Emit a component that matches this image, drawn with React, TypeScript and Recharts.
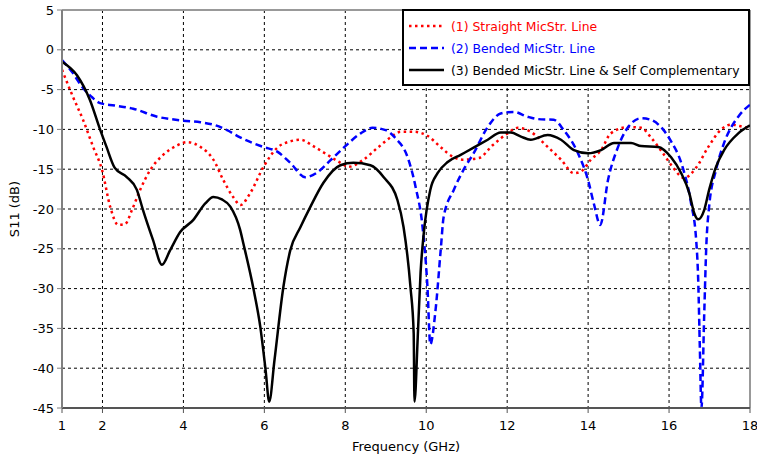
import React from "react";
import { LineChart, Line, XAxis, YAxis, CartesianGrid, ReferenceLine, Label } from "recharts";

const freqTicks = [1, 2, 4, 6, 8, 10, 12, 14, 16, 18];
const s11Ticks = [-45, -40, -35, -30, -25, -20, -15, -10, -5, 0, 5];

// (1) straight microstrip line
const straightF = [1.0, 1.27, 1.52, 1.77, 1.99, 2.19, 2.39, 2.56, 2.73, 2.93, 3.18, 3.5, 3.85, 4.09, 4.42, 4.74, 4.99, 5.23, 5.41, 5.65, 5.98, 6.32, 6.64, 6.89, 7.21, 7.56, 7.88, 8.08, 8.45, 8.8, 9.12, 9.37, 9.69, 10.03, 10.35, 10.68, 10.93, 11.3, 11.64, 12.01, 12.26, 12.58, 13.0, 13.33, 13.65, 13.82, 14.07, 14.32, 14.56, 14.99, 15.31, 15.55, 15.85, 16.1, 16.37, 16.67, 16.97, 17.29, 17.54, 17.86, 18.0];
const straightS11 = [-2.5, -5.9, -8.8, -12.2, -15.1, -19.7, -22.0, -21.9, -20.1, -17.6, -15.1, -13.2, -12.0, -11.6, -12.2, -13.8, -16.4, -18.5, -19.5, -18.0, -14.7, -12.3, -11.5, -11.3, -12.1, -13.2, -14.2, -14.7, -13.8, -12.3, -11.0, -10.3, -10.3, -10.8, -12.2, -13.5, -13.8, -13.6, -12.0, -10.5, -9.8, -10.3, -12.2, -13.8, -15.5, -15.3, -13.8, -12.6, -10.5, -9.7, -9.8, -11.0, -13.0, -14.8, -16.1, -14.8, -12.2, -10.0, -9.4, -9.7, -9.8];

// (2) bended microstrip line
const bendedF = [1.0, 1.25, 1.52, 1.75, 1.94, 2.3, 2.76, 3.35, 4.0, 4.42, 4.8, 5.08, 5.4, 5.97, 6.32, 6.64, 7.01, 7.31, 7.63, 7.96, 8.38, 8.67, 9.0, 9.24, 9.54, 9.74, 9.91, 10.03, 10.1, 10.23, 10.36, 10.43, 10.68, 10.93, 11.17, 11.52, 11.84, 12.16, 12.5, 12.75, 13.15, 13.4, 13.75, 14.0, 14.15, 14.3, 14.49, 14.74, 14.99, 15.31, 15.55, 15.85, 16.05, 16.3, 16.54, 16.67, 16.72, 16.76, 16.8, 16.87, 16.92, 16.99, 17.16, 17.36, 17.71, 18.0];
const bendedS11 = [-1.3, -2.8, -4.8, -6.0, -6.7, -7.0, -7.4, -8.4, -8.9, -9.1, -9.5, -10.1, -11.0, -12.2, -12.8, -14.2, -16.0, -15.4, -13.9, -12.3, -10.5, -9.8, -10.1, -11.1, -13.5, -17.3, -22.3, -29.8, -37.0, -32.7, -25.0, -21.0, -17.6, -15.0, -13.0, -9.7, -8.0, -7.8, -8.4, -8.7, -8.8, -10.1, -13.0, -16.4, -19.5, -22.0, -16.4, -12.2, -9.7, -8.6, -8.8, -10.0, -11.5, -14.2, -19.2, -23.9, -28.9, -37.3, -45.0, -33.0, -24.7, -19.7, -15.1, -11.7, -8.4, -6.9];

// (3) bended microstrip line & self complementary
const selfCompF = [1.0, 1.37, 1.69, 1.94, 2.1, 2.3, 2.6, 2.85, 3.0, 3.25, 3.47, 3.67, 3.92, 4.24, 4.54, 4.74, 4.95, 5.16, 5.4, 5.48, 5.73, 5.9, 6.03, 6.12, 6.25, 6.47, 6.64, 6.89, 7.14, 7.46, 7.88, 8.2, 8.62, 8.95, 9.29, 9.44, 9.61, 9.69, 9.71, 9.79, 9.86, 9.94, 10.1, 10.28, 10.53, 10.85, 11.17, 11.52, 11.84, 12.09, 12.34, 12.58, 13.0, 13.33, 13.65, 14.0, 14.32, 14.64, 15.06, 15.31, 15.73, 16.05, 16.3, 16.5, 16.62, 16.72, 16.87, 16.99, 17.16, 17.36, 17.71, 18.0];
const selfCompS11 = [-1.5, -3.2, -6.3, -10.0, -12.2, -14.8, -16.0, -17.6, -20.1, -23.9, -27.0, -25.2, -22.9, -21.4, -19.3, -18.5, -18.8, -19.7, -22.6, -24.3, -30.0, -34.8, -40.2, -44.2, -39.0, -29.8, -25.2, -22.3, -19.7, -16.7, -14.5, -14.2, -14.5, -16.0, -18.9, -22.3, -29.8, -35.6, -44.2, -36.1, -28.0, -23.0, -17.6, -15.5, -14.1, -13.2, -12.3, -11.3, -10.4, -10.4, -10.9, -11.3, -10.7, -11.3, -12.6, -13.0, -12.6, -11.7, -11.7, -12.1, -12.2, -13.5, -15.5, -18.0, -20.5, -21.3, -20.1, -17.6, -14.7, -12.6, -10.5, -9.5];

const toPoints = (f: number[], s: number[]) => f.map((v, i) => ({ f: v, s11: s[i] }));

const series = [
  { name: "(1) Straight MicStr. Line", data: toPoints(straightF, straightS11), color: "#ff0000", dash: "2.5 3.5" },
  { name: "(2) Bended MicStr. Line", data: toPoints(bendedF, bendedS11), color: "#0000ff", dash: "7 4" },
  { name: "(3) Bended MicStr. Line & Self Complementary", data: toPoints(selfCompF, selfCompS11), color: "#000000", dash: undefined },
];

const font = "'DejaVu Sans', Verdana, sans-serif";

export default function App() {
  return (
    <div style={{ position: "relative", width: 757, height: 459, fontFamily: font, background: "#fff" }}>
      <style>{"body{margin:0}"}</style>
      <LineChart width={757} height={459} margin={{ top: 10, right: 7, bottom: 21, left: 0 }}>
        <CartesianGrid stroke="#000" strokeDasharray="3 3" strokeWidth={1} />
        <XAxis
          dataKey="f"
          type="number"
          domain={[1, 18]}
          ticks={freqTicks}
          allowDataOverflow
          height={30}
          tick={{ fontSize: 13, fill: "#000", fontFamily: font }}
          tickSize={5}
          tickMargin={8}
          axisLine={{ stroke: "#555", strokeWidth: 2 }}
          tickLine={{ stroke: "#555" }}
        >
          <Label value="Frequency (GHz)" position="bottom" offset={4} style={{ fontSize: 13, fill: "#000", fontFamily: font }} />
        </XAxis>
        <YAxis
          type="number"
          domain={[-45, 5]}
          ticks={s11Ticks}
          allowDataOverflow
          width={62}
          tick={{ fontSize: 13, fill: "#000", fontFamily: font }}
          tickSize={5}
          tickMargin={3}
          axisLine={{ stroke: "#808080", strokeWidth: 2 }}
          tickLine={{ stroke: "#808080" }}
        >
          <Label value="S11 (dB)" angle={-90} position="insideLeft" offset={14} style={{ fontSize: 13, fill: "#000", fontFamily: font, textAnchor: "middle" }} />
        </YAxis>
        <ReferenceLine y={5} stroke="#999" strokeWidth={2} />
        <ReferenceLine x={18} stroke="#999" strokeWidth={2} />
        {series.map((s) => (
          <Line
            key={s.name}
            data={s.data}
            dataKey="s11"
            type="monotone"
            stroke={s.color}
            strokeWidth={2.5}
            strokeDasharray={s.dash}
            dot={false}
            isAnimationActive={false}
          />
        ))}
      </LineChart>
      <div
        style={{
          position: "absolute",
          left: 402,
          top: 9,
          width: 344,
          height: 73,
          border: "2px solid #000",
          background: "#fff",
        }}
      >
        {series.map((s, i) => (
          <div key={s.name} style={{ position: "absolute", left: 3, top: 4 + i * 22, height: 22, display: "flex", alignItems: "center", whiteSpace: "nowrap" }}>
            <svg width={40} height={6} style={{ marginRight: 4 }}>
              <line x1={2} y1={3} x2={37} y2={3} stroke={s.color} strokeWidth={2.5} strokeDasharray={s.dash} />
            </svg>
            <span style={{ fontSize: 12.4, color: s.color }}>{s.name}</span>
          </div>
        ))}
      </div>
    </div>
  );
}
